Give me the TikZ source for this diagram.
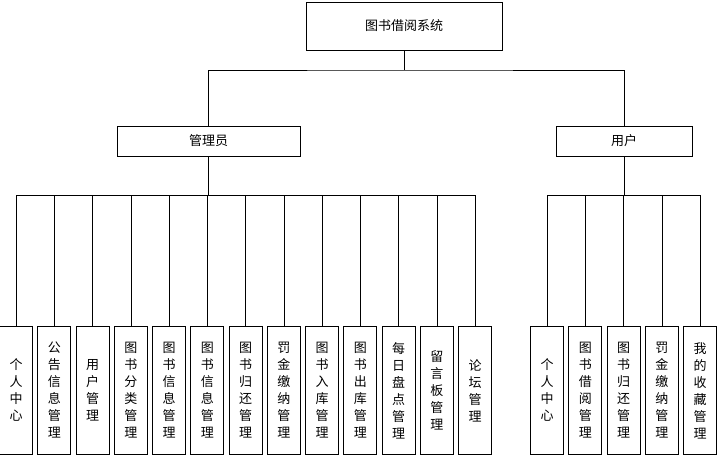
\documentclass[tikz,border=0pt]{standalone}
\usepackage{fontspec}
\setmainfont{Noto Sans CJK SC}
\usepackage{tikz}
\tikzset{Box/.style={rectangle, draw=black, thick, inner sep=0pt, font=\fontsize{13}{17}\selectfont},
  Leaf/.style={Box, minimum width=33, minimum height=128, anchor=north, align=center}}

\begin{document}
\begin{tikzpicture}[x=1pt,y=-1pt]
    \useasboundingbox (0,0) rectangle (725,472);
    \path
    (404,26) node[Box, minimum width=196, minimum height=48] (sys) {图书借阅系统}
    (208.5,141) node[Box, minimum width=183, minimum height=30] (adm) {管理员}
    (624,141) node[Box, minimum width=136, minimum height=30] (usr) {用户};
    \coordinate (top) at (404,70);
    \coordinate (abar) at (208.5,195);
    \coordinate (ubar) at (624,195);

    \foreach \t [count=\i] in {个\\人\\中\\心, 公\\告\\信\\息\\管\\理, 用\\户\\管\\理,
        图\\书\\分\\类\\管\\理, 图\\书\\信\\息\\管\\理, 图\\书\\信\\息\\管\\理,
        图\\书\\归\\还\\管\\理, 罚\\金\\缴\\纳\\管\\理, 图\\书\\入\\库\\管\\理,
        图\\书\\出\\库\\管\\理, 每\\日\\盘\\点\\管\\理, 留\\言\\板\\管\\理, 论\\坛\\管\\理}
        \path (16+38.25*\i-38.25,326) node[Leaf] (a\i) {\t};
    \foreach \t [count=\i] in {个\\人\\中\\心, 图\\书\\借\\阅\\管\\理, 图\\书\\归\\还\\管\\理,
        罚\\金\\缴\\纳\\管\\理, 我\\的\\收\\藏\\管\\理}
        \path (547+38.25*\i-38.25,326) node[Leaf] (u\i) {\t};

    \draw (sys) -- (top);
    \draw (adm.north) |- (top) -| (usr.north);
    \draw (adm.south) -- (abar);
    \draw (usr.south) -- (ubar);
    \foreach \i in {1,...,13} \draw (a\i.north) |- (abar);
    \foreach \i in {1,...,5} \draw (u\i.north) |- (ubar);
\end{tikzpicture}
\end{document}
